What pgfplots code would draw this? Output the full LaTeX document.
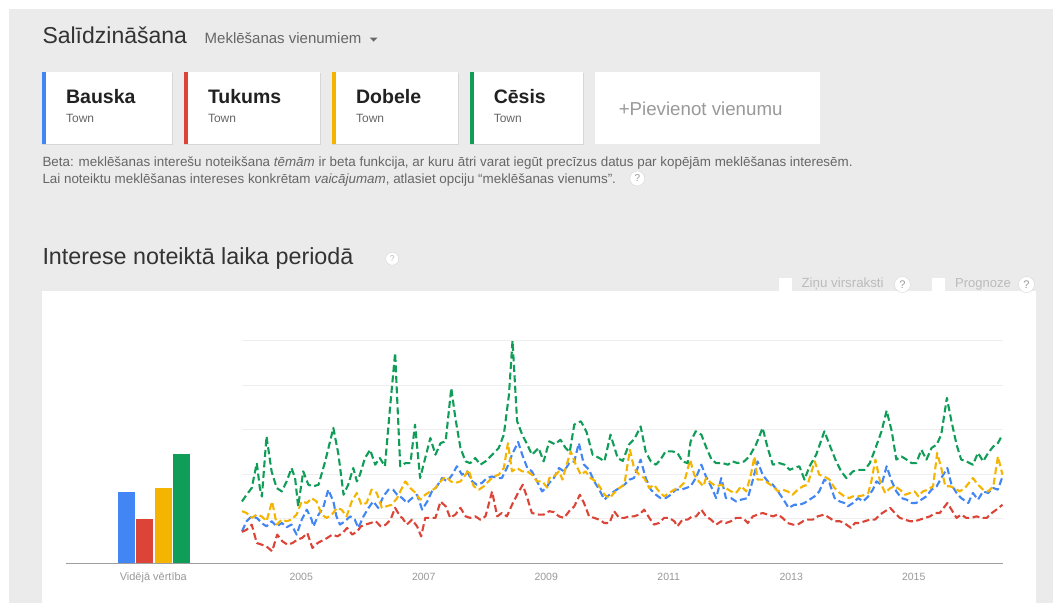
\documentclass[border=0pt]{standalone}
\usepackage{fontspec}
\setmainfont{Liberation Sans}
\usepackage{pgfplots}
\pgfplotsset{compat=1.18}

\definecolor{gbg}{HTML}{EBEBEB}
\definecolor{gblue}{HTML}{4285F4}
\definecolor{gred}{HTML}{DB4437}
\definecolor{gyellow}{HTML}{F4B400}
\definecolor{ggreen}{HTML}{0F9D58}
\definecolor{gridc}{HTML}{EEEEEE}
\definecolor{basec}{HTML}{9E9E9E}
\definecolor{tdark}{HTML}{333333}
\definecolor{tcard}{HTML}{212121}
\definecolor{tmid}{HTML}{666666}
\definecolor{tlight}{HTML}{999999}
\definecolor{tpale}{HTML}{BBBBBB}
\definecolor{shadowc}{HTML}{D6D6D6}

\newcommand{\fs}[1]{\fontsize{#1}{#1}\selectfont}

\begin{document}
\begin{tikzpicture}
\begin{scope}[x=1pt,y=-1pt]
\useasboundingbox (0,0) rectangle (1053,603);
\fill[white] (0,0) rectangle (1053,603);
\fill[gbg] (9,9) rectangle (1053,603);

% header
\node[anchor=base west,inner sep=0,text=tdark] at (42.3,43.9) {\fs{23}Salīdzināšana};
\node[anchor=base west,inner sep=0,text=tmid] at (204.5,43.9) {\fs{15}Meklēšanas vienumiem};
\fill[tmid] (369.5,37.5) -- (377.5,37.5) -- (373.5,41.5) -- cycle;

% cards
\foreach \xa/\xb/\col/\name in {42.3/172.4/gblue/Bauska, 184.2/320.2/gred/Tukums, 332.3/458.1/gyellow/Dobele, 470/582.9/ggreen/Cēsis}{
  \fill[shadowc] (\xa,72.7) rectangle (\xb+0.6,144.8);
  \fill[white] (\xa,71.7) rectangle (\xb,143.7);
  \fill[\col] (\xa,71.7) rectangle (\xa+3.5,143.7);
  \node[anchor=base west,inner sep=0,text=tcard] at (\xa+23.6,103.1) {\fs{19.5}\bfseries \name};
  \node[anchor=base west,inner sep=0,text=tmid] at (\xa+23.6,122.4) {\fs{12}Town};
}
\fill[white] (594.8,71.7) rectangle (820.1,143.7);
\node[anchor=base west,inner sep=0,text=tlight] at (618.6,115.6) {\fs{18.7}+Pievienot vienumu};

% beta text
\node[anchor=base west,inner sep=0,text=tmid] at (42.3,166) {\fs{13.4}Beta: meklēšanas interešu noteikšana \textit{tēmām} ir beta funkcija, ar kuru ātri varat iegūt precīzus datus par kopējām meklēšanas interesēm.};
\node[anchor=base west,inner sep=0,text=tmid] at (42.3,183) {\fs{13.4}Lai noteiktu meklēšanas intereses konkrētam \textit{vaicājumam}, atlasiet opciju “meklēšanas vienums”.};
\node[circle,draw=shadowc,fill=white,inner sep=0,minimum size=15pt,text=tlight] at (637.3,178.5) {\fs{10}?};

% section title
\node[anchor=base west,inner sep=0,text=tdark] at (42.3,264.8) {\fs{23.3}Interese noteiktā laika periodā};
\node[circle,draw=shadowc,fill=white,inner sep=0,minimum size=13pt,text=tpale] at (392.2,258.7) {\fs{8.5}?};

% chart panel
\fill[white] (42.3,290.9) rectangle (1035.6,603);

% options
\fill[white] (779,277.7) rectangle (792,291.3);
\node[anchor=west,inner sep=0,text=tpale] at (801.4,284.5) {\fs{13.3}Ziņu virsraksti};
\node[circle,draw=shadowc,fill=white,inner sep=0,minimum size=16pt,text=tlight] at (902.4,284.5) {\fs{11}?};
\fill[white] (932.3,277.7) rectangle (945,291.3);
\node[anchor=west,inner sep=0,text=tpale] at (955,284.5) {\fs{13}Prognoze};
\node[circle,draw=shadowc,fill=white,inner sep=0,minimum size=16pt,text=tlight] at (1026.5,284.5) {\fs{11}?};
\end{scope}

% average bars
\begin{axis}[
  at={(66pt,-563.3pt)}, anchor=south west,
  scale only axis, width=176pt, height=222.6pt,
  xmin=66, xmax=242, ymin=0, ymax=100,
  axis line style={draw=none},
  ytick=\empty,
  xtick={153.3}, xticklabels={Vidējā vērtība},
  major tick length=0pt,
  xticklabel style={anchor=base, yshift=-17.6pt, text=tlight, font=\fs{11}},
  ybar, bar width=17pt, bar shift=0pt,
]
\addplot[fill=gblue, draw=none] coordinates {(126.7,32.2)};
\addplot[fill=gred, draw=none] coordinates {(144.7,19.9)};
\addplot[fill=gyellow, draw=none] coordinates {(163.3,34.0)};
\addplot[fill=ggreen, draw=none] coordinates {(181.0,49.3)};
\end{axis}

% interest over time
\begin{axis}[
  at={(242pt,-563.3pt)}, anchor=south west,
  scale only axis, width=760.5pt, height=222.6pt,
  xmin=0, xmax=149, ymin=0, ymax=100,
  axis line style={draw=none},
  ytick={20,40,60,80,100}, yticklabels={},
  ymajorgrids, grid style={draw=gridc, line width=1pt},
  xtick={11.6,35.6,59.6,83.6,107.6,131.6},
  xticklabels={2005,2007,2009,2011,2013,2015},
  major tick length=0pt,
  xticklabel style={anchor=base, yshift=-17.6pt, text=tlight, font=\fs{10.5}},
  every axis plot/.append style={line width=2.1pt, dash pattern=on 7pt off 3.5pt, line join=round},
  clip=false,
]
\addplot[gblue] coordinates {
(0,14.4)(0.9,18.9)(1.9,21.1)(2.9,20.4)(3.9,18)(4.8,16.6)(5.8,18.9)(6.8,16.6)(7.8,18.1)(8.75,16.2)(9.7,17.4)(10.7,12.9)(11.7,19.6)(12.7,24.1)(13.65,19.6)(14,16.6)(15,21.9)(15.9,24.9)(16.9,33.1)(17.9,27.8)(18.5,21.1)(19.2,17.4)(20.2,18.9)(21.2,21.1)(22.1,19.6)(22.8,15.9)(23.8,21.1)(24.8,24.9)(25.7,27.8)(26.7,24.9)(27.7,30.1)(28.7,33.1)(29.6,33.1)(30.4,30.8)(31.4,29.3)(32.3,27.1)(33.3,29.3)(34.3,30.8)(35.3,24.1)(36.3,27.8)(37.2,32.3)(38.2,34.6)(39.2,38.3)(40.2,36.8)(41.2,39.8)(42.1,43.6)(43.1,39.8)(44.1,41.3)(45.1,36.8)(46,35.3)(47,36.1)(48,38.3)(49,39)(50,38.3)(50.9,38.3)(51.9,42.8)(52.9,48.8)(54.1,54.5)(54.9,48.8)(55.9,42.8)(56.8,41.3)(57.8,36.8)(58.8,32.3)(59.8,34.6)(60.2,36.1)(61.1,38.3)(62.1,42.8)(63.1,41.3)(64.1,45)(65.1,45.8)(66,54)(67,44.3)(68,42)(69,36.8)(70,33.1)(71,28.6)(72,30.8)(72.9,32.3)(73.9,33.8)(74.9,35.3)(75.9,37.6)(76.8,38.3)(78.1,46.6)(79.1,38.3)(80.1,33.1)(81.1,30.8)(82,29.3)(83,29.3)(84,30.8)(85,33.1)(86,33.1)(87,33.8)(87.9,34.6)(88.9,38.3)(90,44.3)(90.9,39)(91.9,34.6)(92.9,29.3)(93.9,38.3)(94.8,29.3)(95.8,29.3)(96.8,27.8)(97.8,28.6)(99.1,29.3)(100.1,37.6)(101,45.8)(102,39.8)(103,36.8)(104,35.3)(105,32.3)(105.9,29.3)(107.1,24.9)(108.2,26.3)(109.2,26.3)(110.2,27.1)(111.2,28.6)(112.2,30.1)(113.1,32.3)(114.1,37.6)(115.1,36.1)(116.1,29.3)(117.1,27.8)(118,27.1)(118.7,25.6)(119.7,27.1)(120.7,29.3)(121.7,27.8)(122.7,30.1)(123.6,33.1)(124.3,36.8)(125.3,35.3)(126.3,43.6)(127.3,36.8)(128.2,32.3)(129.2,29.3)(130.2,28.6)(131.2,27.1)(132.1,27.1)(133.1,28.6)(134.1,30.1)(135.1,33.1)(136.1,34.6)(137,38.3)(138.2,42.8)(139,35.3)(140,31.6)(140.9,29.3)(142.3,27.1)(143.2,31.6)(144.2,28.6)(145.2,32.3)(146.2,31.6)(147.2,33.8)(148.1,33.1)(149,39)
};
\addplot[gred] coordinates {
(0,14.1)(0.9,15.1)(1.9,17.4)(2.9,9.1)(3.85,8.4)(4.8,7.6)(5.9,5.4)(6.9,12.9)(7.9,9.9)(8.9,8.4)(9.9,9.1)(10.8,10.6)(11.8,11.4)(12.8,13.6)(13.8,6.9)(14.8,9.1)(15.7,10.2)(16.7,11.4)(17.7,12.9)(18.7,12.1)(19.7,13.6)(20.6,15.9)(21.6,12.9)(22.6,14.4)(23.3,16.6)(24.2,17.4)(25.2,18.1)(26.2,18.9)(27.2,16.6)(28.2,17.4)(29.1,19.6)(30,24.9)(31,21)(31.4,20.4)(32.3,17.4)(33.3,19.6)(34.3,16.6)(35.1,12.1)(35.9,20.4)(36.9,20.4)(37.9,20.4)(38.9,27.8)(39.9,25.6)(40.8,20.4)(41.8,21.9)(42.8,24.9)(43.8,21.1)(44.7,20.4)(45.7,21.1)(46.7,19.6)(47.7,21.1)(49,32.3)(50,21.1)(50.9,22.6)(51.9,21.1)(52.9,26.3)(53.9,30.8)(55,35.3)(55.9,29.3)(56.8,22.6)(58.1,21.9)(59.1,21.9)(60.2,23.4)(61.1,23)(62.1,21.1)(63.1,20.4)(64.1,23.4)(65.1,25.6)(66.2,30.8)(67,27.1)(68,21.1)(69,20.4)(70,19.6)(71,18.1)(72,18.1)(72.9,23.4)(73.9,20.4)(74.9,20.4)(75.9,21.1)(76.8,21.1)(77.8,21.9)(78.8,24.1)(79.8,20.4)(80.7,17.4)(81.7,18.1)(82.7,20.4)(83.7,20.4)(84.7,18.9)(85.3,16.6)(86.3,19.6)(87.3,19.6)(88.2,21.1)(89,21.1)(90,24.1)(90.9,21.1)(91.9,19.6)(92.9,17.4)(93.9,18.9)(94.8,18.1)(95.8,18.9)(96.8,20.4)(98.1,20.4)(99.1,18.1)(100.1,21.1)(101.1,21.9)(102,22.6)(103,21.9)(104,21.1)(105,21.9)(105.9,20.4)(106.9,18.1)(107.9,17.4)(108.9,17.4)(109.9,18.9)(110.8,19.6)(111.8,19.6)(112.8,21.1)(114.1,21.9)(115.1,20.4)(116.1,18.9)(117.1,18.9)(118,18.1)(119.3,15.9)(120.1,18.1)(121,18.1)(122,18.9)(123,19.6)(124,19.6)(125,21.9)(126,23.4)(127,24.9)(127.9,22.6)(128.9,20.4)(129.9,19.6)(130.9,18.9)(131.8,18.9)(132.8,19.6)(133.8,20.4)(134.8,21.1)(135.8,22.6)(136.7,22.6)(138.2,27.1)(139,24.1)(140,20.4)(140.9,21.9)(141.9,20.4)(142.9,20.4)(143.9,21.1)(144.9,20.4)(145.9,20.4)(146.9,22.6)(147.8,24.1)(149,26.3)
};
\addplot[gyellow] coordinates {
(0,23.4)(0.9,22.6)(1.9,20.4)(2.9,21.9)(3.85,21.1)(4.8,18.9)(5.9,27.8)(6.8,17.4)(7.8,19.6)(8.75,18.9)(9.7,19.6)(10.7,21.9)(11.7,27.8)(12.7,27.1)(13.65,29.3)(14.6,27.8)(15.6,21.9)(16.6,20.4)(17.6,21.9)(18.6,24.9)(19.5,24.1)(20.5,21.1)(21.5,27.8)(22.5,31.6)(23.4,26.3)(24.4,27.1)(25.4,33.1)(26.4,31.6)(27.4,24.9)(28.3,25.6)(29.3,26.3)(30.4,29.3)(31,32.3)(32,36.8)(33,33.8)(34,31.6)(34.9,28.6)(35.9,30.8)(36.9,32.3)(37.9,33.8)(38.9,36.8)(39.9,39)(40.9,36.8)(41.8,36.1)(42.8,36.8)(43.8,39.8)(44.4,42)(45.4,34.6)(46.4,33.1)(47.4,34.6)(48.3,36.8)(49.3,39)(50.3,39.8)(51.3,42.8)(52.1,54)(52.9,41.3)(53.9,42.8)(54.9,41.3)(55.9,41.3)(56.8,39.8)(57.8,36.8)(58.8,36.8)(59.8,34)(60.2,38.3)(61.1,39)(62.1,41.3)(62.8,37.6)(63.4,42.8)(64.4,50.3)(65.4,44.3)(66.4,39.8)(67.3,41.3)(68.3,38.3)(69.3,36.8)(70.2,34)(71,30.8)(72,29.3)(72.9,31.6)(73.9,33.8)(74.9,35.3)(76,51)(76.8,42.8)(77.8,39.8)(78.8,38.3)(79.8,33.8)(80.7,35.3)(81.7,32.3)(82.7,30.1)(83.7,31.6)(84.7,33.1)(85.6,33.8)(86.6,36.1)(87.8,46.5)(88.6,39.8)(89.5,36.8)(90.4,34.6)(90.9,38.3)(91.9,36.1)(92.9,34.6)(93.9,35.3)(94.8,33.8)(95.8,32.3)(96.8,31.6)(97.8,34.6)(98.8,32.3)(99.7,39.8)(100.4,48)(101,37.6)(102,37.6)(103,36.1)(104,34.6)(105,32.3)(105.9,33.1)(106.9,32.3)(107.9,30.8)(108.9,33.1)(109.9,34.6)(110.8,35.3)(112.2,45.8)(113.1,39.8)(114.1,39)(115.1,37.6)(116.1,33.8)(117.1,31.6)(118,30.1)(119,29.3)(119.7,30.1)(120.7,30.1)(121.7,30.5)(122.7,31.6)(123.3,36.8)(124.1,46.6)(125,36.8)(126,31.6)(127,33.8)(127.9,34.6)(128.9,33.1)(129.9,30.8)(130.9,31.6)(131.8,32.3)(132.5,30.1)(133.4,32.3)(134.4,33.1)(135.4,34.6)(136.2,49.6)(137,42.8)(137.8,34.6)(138.7,34.6)(139.6,33.8)(140.6,32.3)(141.6,33.8)(143.2,38.3)(144.2,35.3)(145.2,33.1)(146.2,32.3)(147.2,34.6)(148.1,48)(149,39.8)
};
\addplot[ggreen] coordinates {
(0,27.8)(0.9,30.8)(1.9,33.8)(2.9,45)(3.5,33.8)(3.9,30)(4.8,57)(5.8,41.3)(6.8,33.8)(7.8,32.3)(8.75,36.8)(9.7,42.8)(10.4,38.3)(11,25.6)(12,41.3)(13,35.3)(14,34.6)(15,35.3)(16.3,45.8)(17.9,60.8)(18.9,48.8)(19.9,30.8)(20.8,35.3)(21.8,42.8)(22.5,36.8)(23.1,39.8)(24.1,47.3)(25.1,51)(26.1,44.3)(27,47.3)(28,43.6)(29,69.8)(30,94.5)(31,43.6)(32,45)(33,45)(33.9,62.3)(34.9,38.3)(35.9,47.3)(36.9,56.3)(37.9,48.8)(38.9,54)(39.9,54.8)(41,78.7)(41.8,65.3)(42.8,51.8)(43.8,45.8)(44.7,45)(45.7,47.3)(46.7,44.3)(47.7,45.8)(49,48.8)(50.3,51.8)(51.3,57.8)(52.3,75.7)(53,100)(53.9,63.8)(54.9,57.8)(55.9,53.3)(56.8,48.8)(58.1,51.8)(59.1,45.8)(60.2,54.8)(61.3,53.5)(62.4,55.5)(63.4,51.8)(64.2,50)(65.1,62.3)(66.4,63.8)(67.5,59)(68.7,48.8)(70,47.3)(71,45.8)(72.2,57.8)(73.6,47.3)(74.6,46)(75.8,53.3)(76.9,56)(78.1,61.5)(79.1,50)(80.1,45.8)(81.1,44.3)(82,46.6)(83,50.3)(84.3,50.3)(85.3,49.6)(86.3,45.8)(87.3,45)(87.9,54.8)(88.9,59.3)(90,57.8)(91,51.8)(92,46.6)(92.9,45)(94.2,45)(95.2,44.3)(96.1,45.8)(97.1,45)(98.4,45.8)(99.4,48)(100.7,53.3)(102,60.8)(103,51.8)(104,44.3)(105.3,45)(106.3,44.3)(107.3,42)(108.2,42.8)(109.2,43.6)(110.2,37.6)(111.2,43.6)(112.5,48.8)(114.1,59.3)(115.1,53.3)(116.4,45.8)(117.4,41.3)(118.4,38.3)(119.7,41.3)(120.7,42)(122,42)(123,45)(124,51)(125.3,59.3)(126.3,68.6)(127.3,59.3)(128.2,46.6)(129.2,48)(130.2,46.6)(131.2,45)(132.1,45)(133.1,51)(134.1,46.6)(135.1,51.8)(136.1,53.3)(137,57.8)(138.1,74.3)(139,63.8)(140,53.3)(140.9,46.6)(141.9,45.8)(143.2,44.3)(144.2,49.6)(145.2,45.8)(146.2,49.6)(147.2,52.5)(148.1,54)(149,57.8)
};
\end{axis}

\begin{scope}[x=1pt,y=-1pt]
\draw[basec, line width=1.5pt] (66,563.3) -- (1003,563.3);
\end{scope}
\end{tikzpicture}
\end{document}
